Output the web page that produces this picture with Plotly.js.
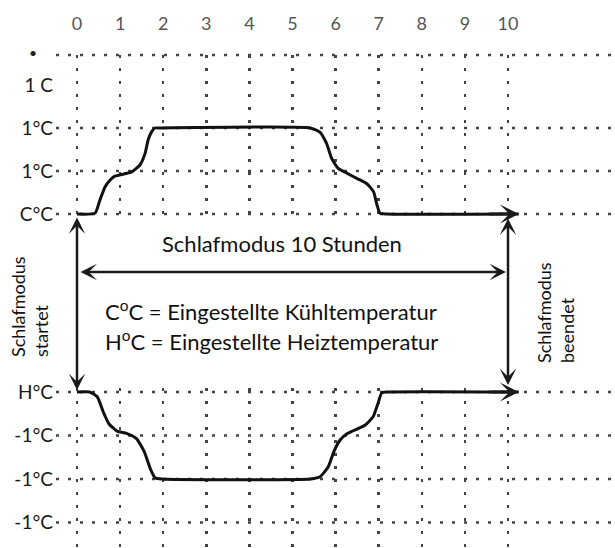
<!DOCTYPE html>
<html><head><meta charset="utf-8">
<script src="https://cdn.plot.ly/plotly-3.0.1.min.js"></script>
<style>html,body{margin:0;padding:0;background:#fff}#chart{width:615px;height:548px}</style>
</head><body><div id="chart"></div>
<script>
// ---- data ----
const hours = [0,1,2,3,4,5,6,7,8,9,10];
const coolLevels = [0,1,2,3];
const coolLabels = ['C°C','1°C','1°C','1 C'];
const coolGridLevels = [0,1,2];
const heatLevels = [0,-1,-2,-3];
const heatLabels = ['H°C','-1°C','-1°C','-1°C'];
const heatGridLevels = [0,-1,-2,-3];
const coolX = [0,0.42,0.53,0.65,0.77,0.88,1.0,1.27,1.46,1.58,1.65,1.73,1.81,1.93,5.41,5.64,5.79,5.91,6.06,6.26,6.49,6.72,6.88,6.95,7.03,7.19,10.25];
const coolY = [0,0.02,0.32,0.63,0.79,0.88,0.91,0.98,1.14,1.41,1.72,1.91,2.0,2.0,2.0,1.9,1.64,1.29,1.06,0.95,0.83,0.71,0.52,0.25,0.02,0,0];
const heatX = [0,0.29,0.47,0.61,0.74,0.93,1.15,1.38,1.56,1.70,1.81,1.97,5.42,5.64,5.83,5.96,6.10,6.28,6.69,6.87,6.98,7.07,7.19,10.25];
const heatY = [0,0,-0.11,-0.46,-0.73,-0.9,-0.95,-1.07,-1.37,-1.76,-1.97,-2.0,-2.0,-1.95,-1.72,-1.37,-1.11,-0.95,-0.76,-0.57,-0.27,-0.02,0,0];

// ---- layout helpers ----
const W = 615, H = 548, L = 56;
const px2p = px => (px - L) / (W - L);
const py2p = py => (H - py) / H;
const FONT = 'Lato, "Open Sans", sans-serif';
const gridCol = '#444';
const dotDash = '3px,9px';

const traces = [
  {x: coolX, y: coolY, xaxis: 'x', yaxis: 'y', mode: 'lines',
   line: {color: '#111', width: 3, shape: 'spline', smoothing: 0.5}, hoverinfo: 'skip'},
  {x: heatX, y: heatY, xaxis: 'x', yaxis: 'y2', mode: 'lines',
   line: {color: '#111', width: 3, shape: 'spline', smoothing: 0.5}, hoverinfo: 'skip'}
];

const shapes = [];
coolGridLevels.forEach(v => shapes.push({type: 'line', xref: 'x domain', x0: 0, x1: 1, yref: 'y', y0: v, y1: v,
  line: {color: gridCol, width: 2.5, dash: dotDash}, layer: 'below'}));
shapes.push({type: 'line', xref: 'x domain', x0: 0, x1: 1, yref: 'y domain', y0: 1, y1: 1,
  line: {color: gridCol, width: 2.5, dash: dotDash}, layer: 'below'});
heatGridLevels.forEach(v => shapes.push({type: 'line', xref: 'x domain', x0: 0, x1: 1, yref: 'y2', y0: v, y1: v,
  line: {color: gridCol, width: 2.5, dash: dotDash}, layer: 'below'}));

const arrowBase = {text: '', showarrow: true, arrowcolor: '#1a1a1a', arrowwidth: 2.5,
  arrowhead: 3, arrowsize: 1.1, startarrowhead: 3, startarrowsize: 1.1};

const annotations = [
  // curve end arrows
  Object.assign({}, arrowBase, {xref: 'x', yref: 'y', x: coolX[coolX.length-1], y: coolY[coolY.length-1],
    ax: -30, ay: 0, arrowwidth: 3, arrowsize: 1.05}),
  Object.assign({}, arrowBase, {xref: 'x', yref: 'y2', x: heatX[heatX.length-1], y: heatY[heatY.length-1],
    ax: -30, ay: 0, arrowwidth: 3, arrowsize: 1.05}),
  // start vertical double arrow
  Object.assign({}, arrowBase, {xref: 'x', yref: 'y2', x: hours[0], y: 0, ax: 0, ay: -176,
    arrowside: 'end+start', standoff: 2, startstandoff: 0}),
  // end vertical double arrow
  Object.assign({}, arrowBase, {xref: 'x', yref: 'y2', x: hours[hours.length-1], y: 0, ax: 0, ay: -176,
    arrowside: 'end+start', standoff: 7, startstandoff: 1}),
  // horizontal double arrow
  Object.assign({}, arrowBase, {xref: 'x', axref: 'x', yref: 'paper', x: hours[hours.length-1], ax: hours[0],
    y: py2p(272), ay: 0, arrowside: 'end+start', standoff: 2, startstandoff: 2}),
  // texts
  {xref: 'paper', yref: 'paper', x: px2p(282), y: py2p(243), xanchor: 'center', yanchor: 'middle',
   text: 'Schlafmodus 10 Stunden', showarrow: false, font: {family: FONT, size: 22, color: '#111'}},
  {xref: 'paper', yref: 'paper', x: px2p(103), y: py2p(310), xanchor: 'left', yanchor: 'middle',
   text: 'C<sup>o</sup>C = Eingestellte Kühltemperatur', showarrow: false, font: {family: FONT, size: 22, color: '#111'}},
  {xref: 'paper', yref: 'paper', x: px2p(103), y: py2p(340), xanchor: 'left', yanchor: 'middle',
   text: 'H<sup>o</sup>C = Eingestellte Heiztemperatur', showarrow: false, font: {family: FONT, size: 22, color: '#111'}},
  {xref: 'paper', yref: 'paper', x: px2p(29), y: py2p(307), xanchor: 'center', yanchor: 'middle',
   text: 'Schlafmodus<br>startet', textangle: -90, align: 'left', showarrow: false,
   font: {family: FONT, size: 18, color: '#111'}},
  {xref: 'paper', yref: 'paper', x: px2p(555), y: py2p(313), xanchor: 'center', yanchor: 'middle',
   text: 'Schlafmodus<br>beendet', textangle: -90, align: 'left', showarrow: false,
   font: {family: FONT, size: 18, color: '#111'}},
  {xref: 'paper', yref: 'paper', x: px2p(33), y: py2p(53), xanchor: 'center', yanchor: 'middle',
   text: '•', showarrow: false, font: {family: FONT, size: 14, color: '#222'}}
];

const layout = {
  width: W, height: H, margin: {l: L, r: 0, t: 0, b: 0},
  paper_bgcolor: '#fff', plot_bgcolor: '#fff', showlegend: false,
  font: {family: FONT},
  xaxis: {anchor: 'y', side: 'top', range: [-(77 - L) / 43.1, (W - 77) / 43.1],
    tickvals: hours, ticktext: hours.map(String), ticks: '', ticklabelstandoff: 20,
    tickfont: {family: FONT, size: 18, color: '#555'},
    showgrid: true, gridcolor: gridCol, gridwidth: 2.5, griddash: '3px,10px',
    zeroline: false, showline: false, fixedrange: true},
  yaxis: {domain: [py2p(218), py2p(55)], range: [-4 / 43, (214 - 55) / 43],
    tickvals: coolLevels, ticktext: coolLabels, ticks: '', ticklabelstandoff: 2,
    tickfont: {family: FONT, size: 19, color: '#1a1a1a'},
    showgrid: false, zeroline: false, showline: false, fixedrange: true},
  yaxis2: {domain: [0, py2p(388)], range: [-(H - 392) / 43.5, 4 / 43.5], anchor: 'x',
    tickvals: heatLevels, ticktext: heatLabels, ticks: '', ticklabelstandoff: 2,
    tickfont: {family: FONT, size: 19, color: '#1a1a1a'},
    showgrid: false, zeroline: false, showline: false, fixedrange: true},
  shapes: shapes,
  annotations: annotations
};

Plotly.newPlot('chart', traces, layout, {displayModeBar: false, staticPlot: true});
</script>
</body></html>
